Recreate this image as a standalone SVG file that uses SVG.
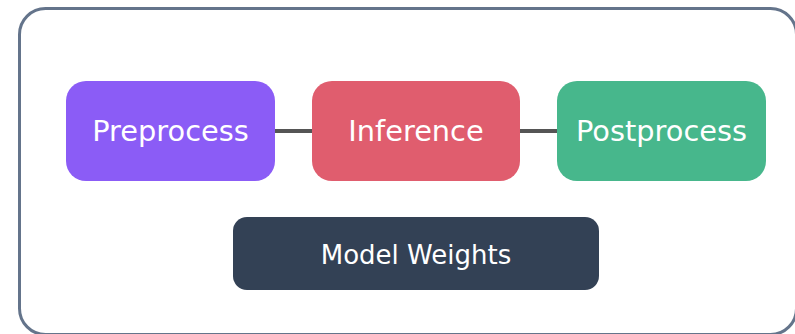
<svg xmlns="http://www.w3.org/2000/svg" width="795" height="334" viewBox="0 0 795 334">
<style>
.lbl{font-family:"DejaVu Sans",sans-serif;fill:#ffffff;text-anchor:middle;dominant-baseline:central}
.big{font-size:28.8px}
.small{font-size:26px}
.conn{stroke:#555555;stroke-width:4;fill:none}
</style>
<rect x="0" y="0" width="795" height="334" fill="#ffffff"/>
<rect id="container" x="19.5" y="8.5" width="777" height="326" rx="26" fill="#ffffff" stroke="#64748b" stroke-width="3"/>
<g id="connectors">
<line class="conn" x1="275" y1="131" x2="312" y2="131"/>
<line class="conn" x1="520" y1="131" x2="557" y2="131"/>
</g>
<g id="preprocess">
<rect x="66" y="81" width="209" height="100" rx="20" fill="#8b5cf6"/>
<text class="lbl big" x="170.5" y="131">Preprocess</text>
</g>
<g id="inference">
<rect x="312" y="81" width="208" height="100" rx="20" fill="#e05d6e"/>
<text class="lbl big" x="416" y="131">Inference</text>
</g>
<g id="postprocess">
<rect x="557" y="81" width="209" height="100" rx="20" fill="#47b78c"/>
<text class="lbl big" x="661.5" y="131">Postprocess</text>
</g>
<g id="model-weights">
<rect x="233" y="217" width="366" height="73" rx="14" fill="#334155"/>
<text class="lbl small" x="416" y="254.5">Model Weights</text>
</g>
</svg>
